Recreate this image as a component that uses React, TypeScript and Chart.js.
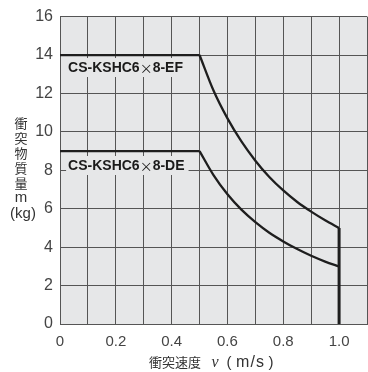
import React, { useEffect, useRef } from "react";
import { Chart, registerables } from "chart.js";

Chart.register(...registerables);

// Data
const flatVelocity = [0, 0.5];
const flatMassEF = [14, 14];
const flatMassDE = [9, 9];

const curveVelocity = [0.5, 0.55, 0.6, 0.65, 0.7, 0.75, 0.8, 0.85, 0.9, 0.95, 1.0];
const curveMassEF = [14, 12.15, 10.7, 9.5, 8.5, 7.65, 6.95, 6.35, 5.85, 5.4, 5.0];
const curveMassDE = [9, 7.75, 6.75, 5.95, 5.3, 4.75, 4.3, 3.9, 3.55, 3.25, 3.0];

const limitVelocity = [1.0, 1.0];
const limitMass = [5.0, 0];

const xTickLabels = ["0", "0.2", "0.4", "0.6", "0.8", "1.0"];
const yTicks = [0, 2, 4, 6, 8, 10, 12, 14, 16];

const seriesLabels = [
  { parts: ["CS-KSHC6", "×", "8-EF"], x: 0.029, y: 13.35 },
  { parts: ["CS-KSHC6", "×", "8-DE"], x: 0.029, y: 8.25 },
];

const yTitleLines = ["衝", "突", "物", "質", "量", "m", "(kg)"];

const zip = (xs: number[], ys: number[]) => xs.map((x, i) => ({ x, y: ys[i] }));

const SANS = "'Liberation Sans', Arial, Helvetica, sans-serif";
const CJK = "'Noto Sans CJK JP', 'Noto Sans CJK SC', sans-serif";

export default function App() {
  const ref = useRef<HTMLCanvasElement | null>(null);

  useEffect(() => {
    if (!ref.current) return;
    const bgPlugin = {
      id: "bg",
      beforeDraw(chart: any) {
        const { ctx, chartArea: a } = chart;
        ctx.save();
        ctx.fillStyle = "#e6e7e8";
        ctx.fillRect(a.left, a.top, a.right - a.left, a.bottom - a.top);
        ctx.restore();
      },
    };
    const textPlugin = {
      id: "texts",
      afterDraw(chart: any) {
        const { ctx } = chart;
        const xs = chart.scales.x;
        const ys = chart.scales.y;
        ctx.save();
        // series labels
        for (const lab of seriesLabels) {
          const px = xs.getPixelForValue(lab.x);
          const py = ys.getPixelForValue(lab.y);
          const fonts = [`bold 14px ${SANS}`, `13px ${CJK}`, `bold 14px ${SANS}`];
          let w = 0;
          const widths = lab.parts.map((p, i) => {
            ctx.font = fonts[i];
            const m = ctx.measureText(p).width;
            w += m;
            return m;
          });
          ctx.fillStyle = "#e6e7e8";
          ctx.fillRect(px - 2, py - 9.5, w + 6, 19);
          ctx.fillStyle = "#1a1a1a";
          ctx.textBaseline = "middle";
          ctx.textAlign = "left";
          let cx = px;
          lab.parts.forEach((p, i) => {
            ctx.font = fonts[i];
            ctx.fillText(p, cx, py + 0.5);
            cx += widths[i];
          });
        }
        // y title
        ctx.fillStyle = "#333";
        ctx.textAlign = "center";
        ctx.textBaseline = "middle";
        yTitleLines.forEach((t, i) => {
          if (i < 5) {
            ctx.font = `13px ${CJK}`;
            ctx.fillText(t, 21, 123 + i * 15);
          } else if (i === 5) {
            ctx.font = `15px ${SANS}`;
            ctx.fillText(t, 21, 198);
          } else {
            ctx.font = `15px ${SANS}`;
            ctx.fillText(t, 23, 214);
          }
        });
        // x title
        ctx.textAlign = "left";
        ctx.textBaseline = "middle";
        ctx.font = `13px ${CJK}`;
        ctx.fillText("衝突速度", 149, 362.5);
        ctx.font = `italic 16px 'Liberation Serif', 'DejaVu Serif', serif`;
        ctx.fillText("v", 211.5, 362.5);
        ctx.font = `15px ${SANS}`;
        ctx.fillText("(", 226.5, 362.5);
        ctx.textAlign = "right";
        ctx.fillText(")", 273.5, 362.5);
        ctx.textAlign = "center";
        ctx.font = `16px ${SANS}`;
        (ctx as any).letterSpacing = "1px";
        ctx.fillText("m/s", 250.5, 362.5);
        (ctx as any).letterSpacing = "0px";
        ctx.restore();
      },
    };

    const lineStyle = {
      borderColor: "#1e1e1e",
      borderWidth: 2.3,
      pointRadius: 0,
      fill: false,
    };

    const chart = new Chart(ref.current, {
      type: "line",
      data: {
        datasets: [
          { ...lineStyle, data: zip(flatVelocity, flatMassEF), tension: 0 },
          { ...lineStyle, data: zip(curveVelocity, curveMassEF), cubicInterpolationMode: "monotone" },
          { ...lineStyle, data: zip(flatVelocity, flatMassDE), tension: 0 },
          { ...lineStyle, data: zip(curveVelocity, curveMassDE), cubicInterpolationMode: "monotone" },
          { ...lineStyle, borderWidth: 3, data: zip(limitVelocity, limitMass), tension: 0 },
        ] as any,
      },
      options: {
        animation: false,
        responsive: false,
        events: [],
        layout: { padding: { top: 15, left: 0, right: 3, bottom: 0 } },
        plugins: { legend: { display: false }, tooltip: { enabled: false } },
        scales: {
          x: {
            type: "linear",
            min: 0,
            max: 1.1,
            afterFit: (s: any) => {
              s.height = 48;
            },
            ticks: {
              stepSize: 0.1,
              autoSkip: false,
              maxRotation: 0,
              padding: 9,
              color: "#444",
              font: { family: SANS, size: 15 },
              callback: (v: any) => {
                const r = Math.round(Number(v) * 10);
                if (r % 2 !== 0 || r > 10) return "";
                return xTickLabels[r / 2];
              },
            },
            grid: { color: "#555", lineWidth: 1, drawTicks: false },
            border: { color: "#555", width: 1 },
          },
          y: {
            type: "linear",
            min: 0,
            max: 16,
            afterFit: (s: any) => {
              s.width = 60;
            },
            afterBuildTicks: (s: any) => {
              s.ticks = yTicks.map((v) => ({ value: v }));
            },
            ticks: {
              padding: 7,
              color: "#444",
              font: { family: SANS, size: 16 },
              callback: (v: any) => String(v),
            },
            grid: { color: "#555", lineWidth: 1, drawTicks: false },
            border: { color: "#555", width: 1 },
          },
        },
      },
      plugins: [bgPlugin, textPlugin],
    });
    return () => chart.destroy();
  }, []);

  return (
    <div style={{ position: "fixed", left: 0, top: 0, width: 368, height: 372, overflow: "hidden", background: "#fff" }}>
      <canvas ref={ref} width={376} height={372} style={{ display: "block", width: 376, height: 372 }} />
    </div>
  );
}
